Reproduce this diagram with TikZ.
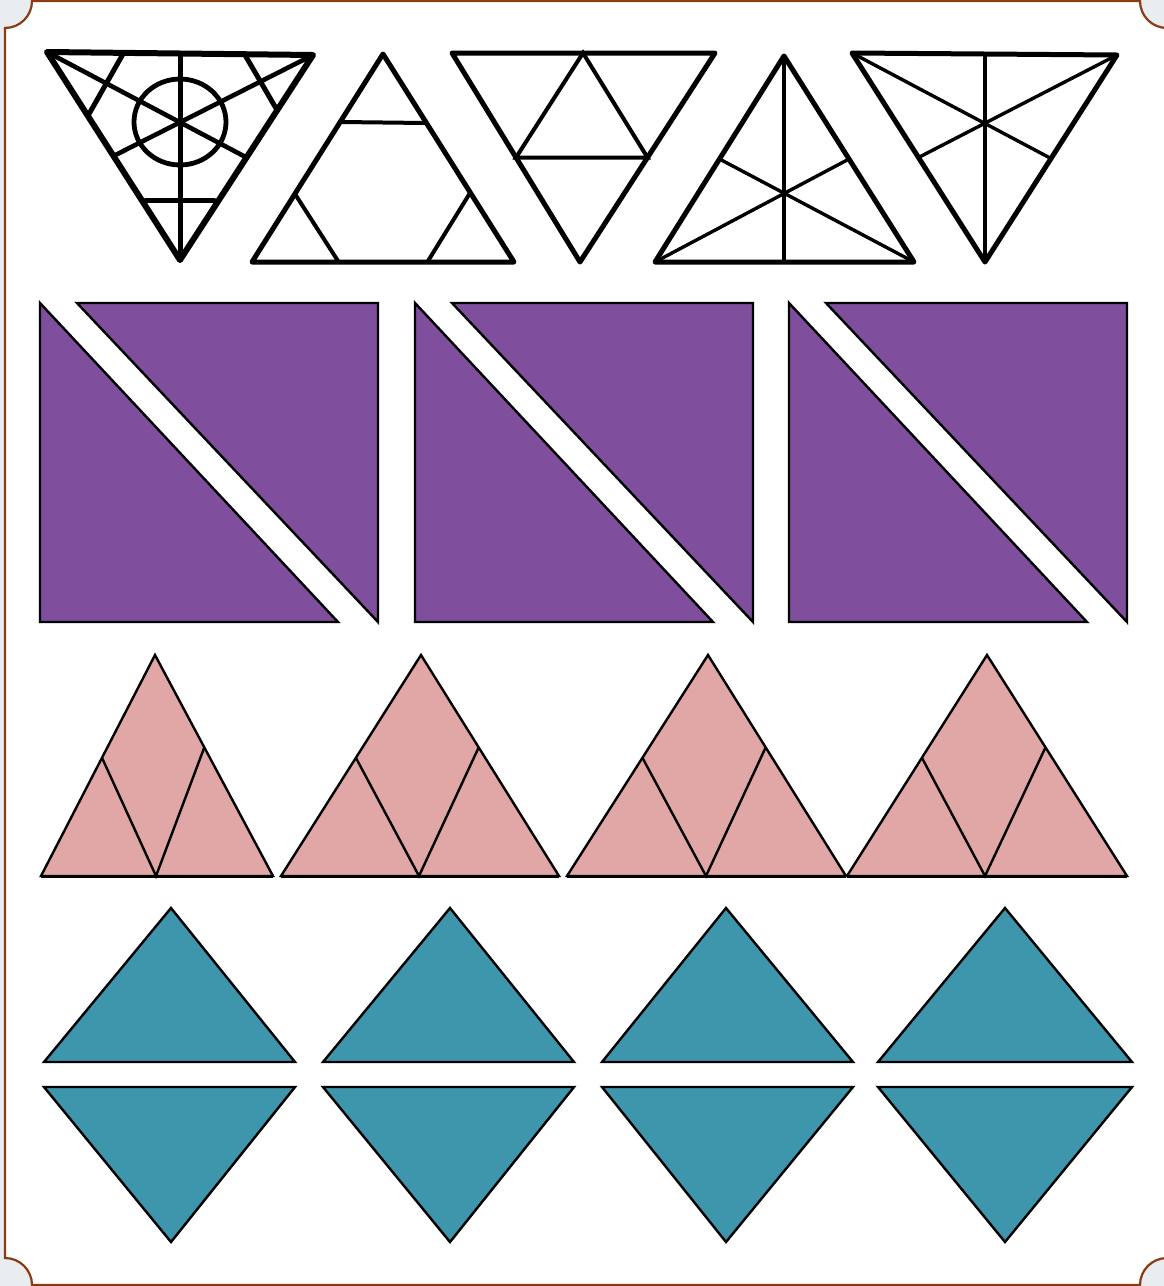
\documentclass[tikz,border=0pt]{standalone}
\usetikzlibrary{calc}
\definecolor{cardline}{HTML}{8A3B12}
\definecolor{outside}{HTML}{E9EDEF}
\definecolor{purp}{HTML}{7F4F9D}
\definecolor{pinkf}{HTML}{E1A6A6}
\definecolor{tealf}{HTML}{3E96AC}
\tikzset{
  ink/.style={line width=5pt, line join=round, line cap=round, black},
  inkthin/.style={line width=4pt, line cap=round, black},
  purpshape/.style={fill=purp, draw=black, line width=2.4pt, line join=miter},
  pinkshape/.style={fill=pinkf, draw=black, line width=2.4pt, line join=miter},
  pinkline/.style={black, line width=2.4pt},
  tealshape/.style={fill=tealf, draw=black, line width=2.4pt, line join=miter},
}
\begin{document}
\begin{tikzpicture}[x=1pt,y=-1pt]
\useasboundingbox (0,0) rectangle (1164,1286);
\fill[outside] (0,0) rectangle (1164,1286);
% card with concave corners
\filldraw[fill=white, draw=cardline, line width=2.2pt]
  (32,1) -- (1140,1) arc[start angle=180,end angle=90,radius=27]
  -- (1167,1258) arc[start angle=270,end angle=180,radius=27]
  -- (32,1285) arc[start angle=0,end angle=-90,radius=27]
  -- (5,28) arc[start angle=90,end angle=0,radius=27] -- cycle;

% ---------- top row: line drawings ----------
% triangle 1
\coordinate (a1) at (47,52); \coordinate (b1) at (313,55); \coordinate (c1) at (180,260);
\draw[ink, line width=6pt] (a1) -- (b1) -- (c1) -- cycle;
\draw[inkthin, line width=5pt] ($(a1)!0.5!(b1)$) -- (c1);
\draw[inkthin, line width=4.6pt] (a1) -- ($(b1)!0.5!(c1)$);
\draw[inkthin, line width=4.6pt] (b1) -- ($(a1)!0.5!(c1)$);
\draw[inkthin, line width=4.8pt] (180,122) ellipse[x radius=46, y radius=43];
\draw[inkthin, line width=5pt] (123,54) -- (89,114);
\draw[inkthin, line width=5pt] (245,55) -- (277,110);
\draw[inkthin, line width=5pt] (146,200) -- (214,200);
% triangle 2
\coordinate (a2) at (383,54); \coordinate (b2) at (252,262); \coordinate (c2) at (514,262);
\draw[ink] (a2) -- (b2) -- (c2) -- cycle;
\draw[inkthin] (341,122) -- (425,123);
\draw[inkthin] (295,194) -- (338,261);
\draw[inkthin] (470,193) -- (428,261);
% triangle 3
\coordinate (a3) at (452,53); \coordinate (b3) at (715,53); \coordinate (c3) at (580,262);
\draw[ink] (a3) -- (b3) -- (c3) -- cycle;
\draw[inkthin] ($(a3)!0.5!(c3)$) -- (583,53) -- ($(b3)!0.5!(c3)$) -- cycle;
% triangle 4
\coordinate (a4) at (784,56); \coordinate (b4) at (655,262); \coordinate (c4) at (914,262);
\draw[ink] (a4) -- (b4) -- (c4) -- cycle;
\draw[inkthin] (a4) -- (784,262);
\draw[inkthin, line width=3.4pt] (b4) -- ($(a4)!0.5!(c4)$);
\draw[inkthin, line width=3.4pt] (c4) -- ($(a4)!0.5!(b4)$);
% triangle 5
\coordinate (a5) at (852,53); \coordinate (b5) at (1117,55); \coordinate (c5) at (985,262);
\draw[ink] (a5) -- (b5) -- (c5) -- cycle;
\draw[inkthin, line width=3.4pt] (985,54) -- (c5);
\draw[inkthin, line width=3.4pt] (a5) -- ($(b5)!0.5!(c5)$);
\draw[inkthin, line width=3.4pt] (b5) -- ($(a5)!0.5!(c5)$);

% ---------- purple squares ----------
\foreach \x in {40,415,789}{
  \filldraw[purpshape] (\x,303) -- (\x,622) -- (\x+298,622) -- cycle;
  \filldraw[purpshape] (\x+37,303) -- (\x+338,303) -- (\x+338,622) -- cycle;
}

% ---------- pink triangles ----------
\foreach \ax/\lx/\rx/\mx in {155/41/273/156, 421/281/559/419, 708/567/846/706, 987/847/1127/985}{
  \coordinate (pa) at (\ax,655);
  \coordinate (pl) at (\lx,876);
  \coordinate (pr) at (\rx,876);
  \coordinate (pm) at (\mx,876);
  \filldraw[pinkshape] (pa) -- (pl) -- (pr) -- cycle;
  \draw[pinkline] ($(pa)!0.465!(pl)$) -- (pm) -- ($(pa)!0.418!(pr)$);
  \draw[black, line width=3pt] (pl) -- (pr);
}

% ---------- teal diamonds ----------
\foreach \cx/\lx/\rx in {171/44/295, 450/323/574, 726/602/853, 1005/878/1132}{
  \filldraw[tealshape] (\cx,908) -- (\rx,1062) -- (\lx,1062) -- cycle;
  \filldraw[tealshape] (\lx,1087) -- (\rx,1087) -- (\cx,1242) -- cycle;
}
\end{tikzpicture}
\end{document}
